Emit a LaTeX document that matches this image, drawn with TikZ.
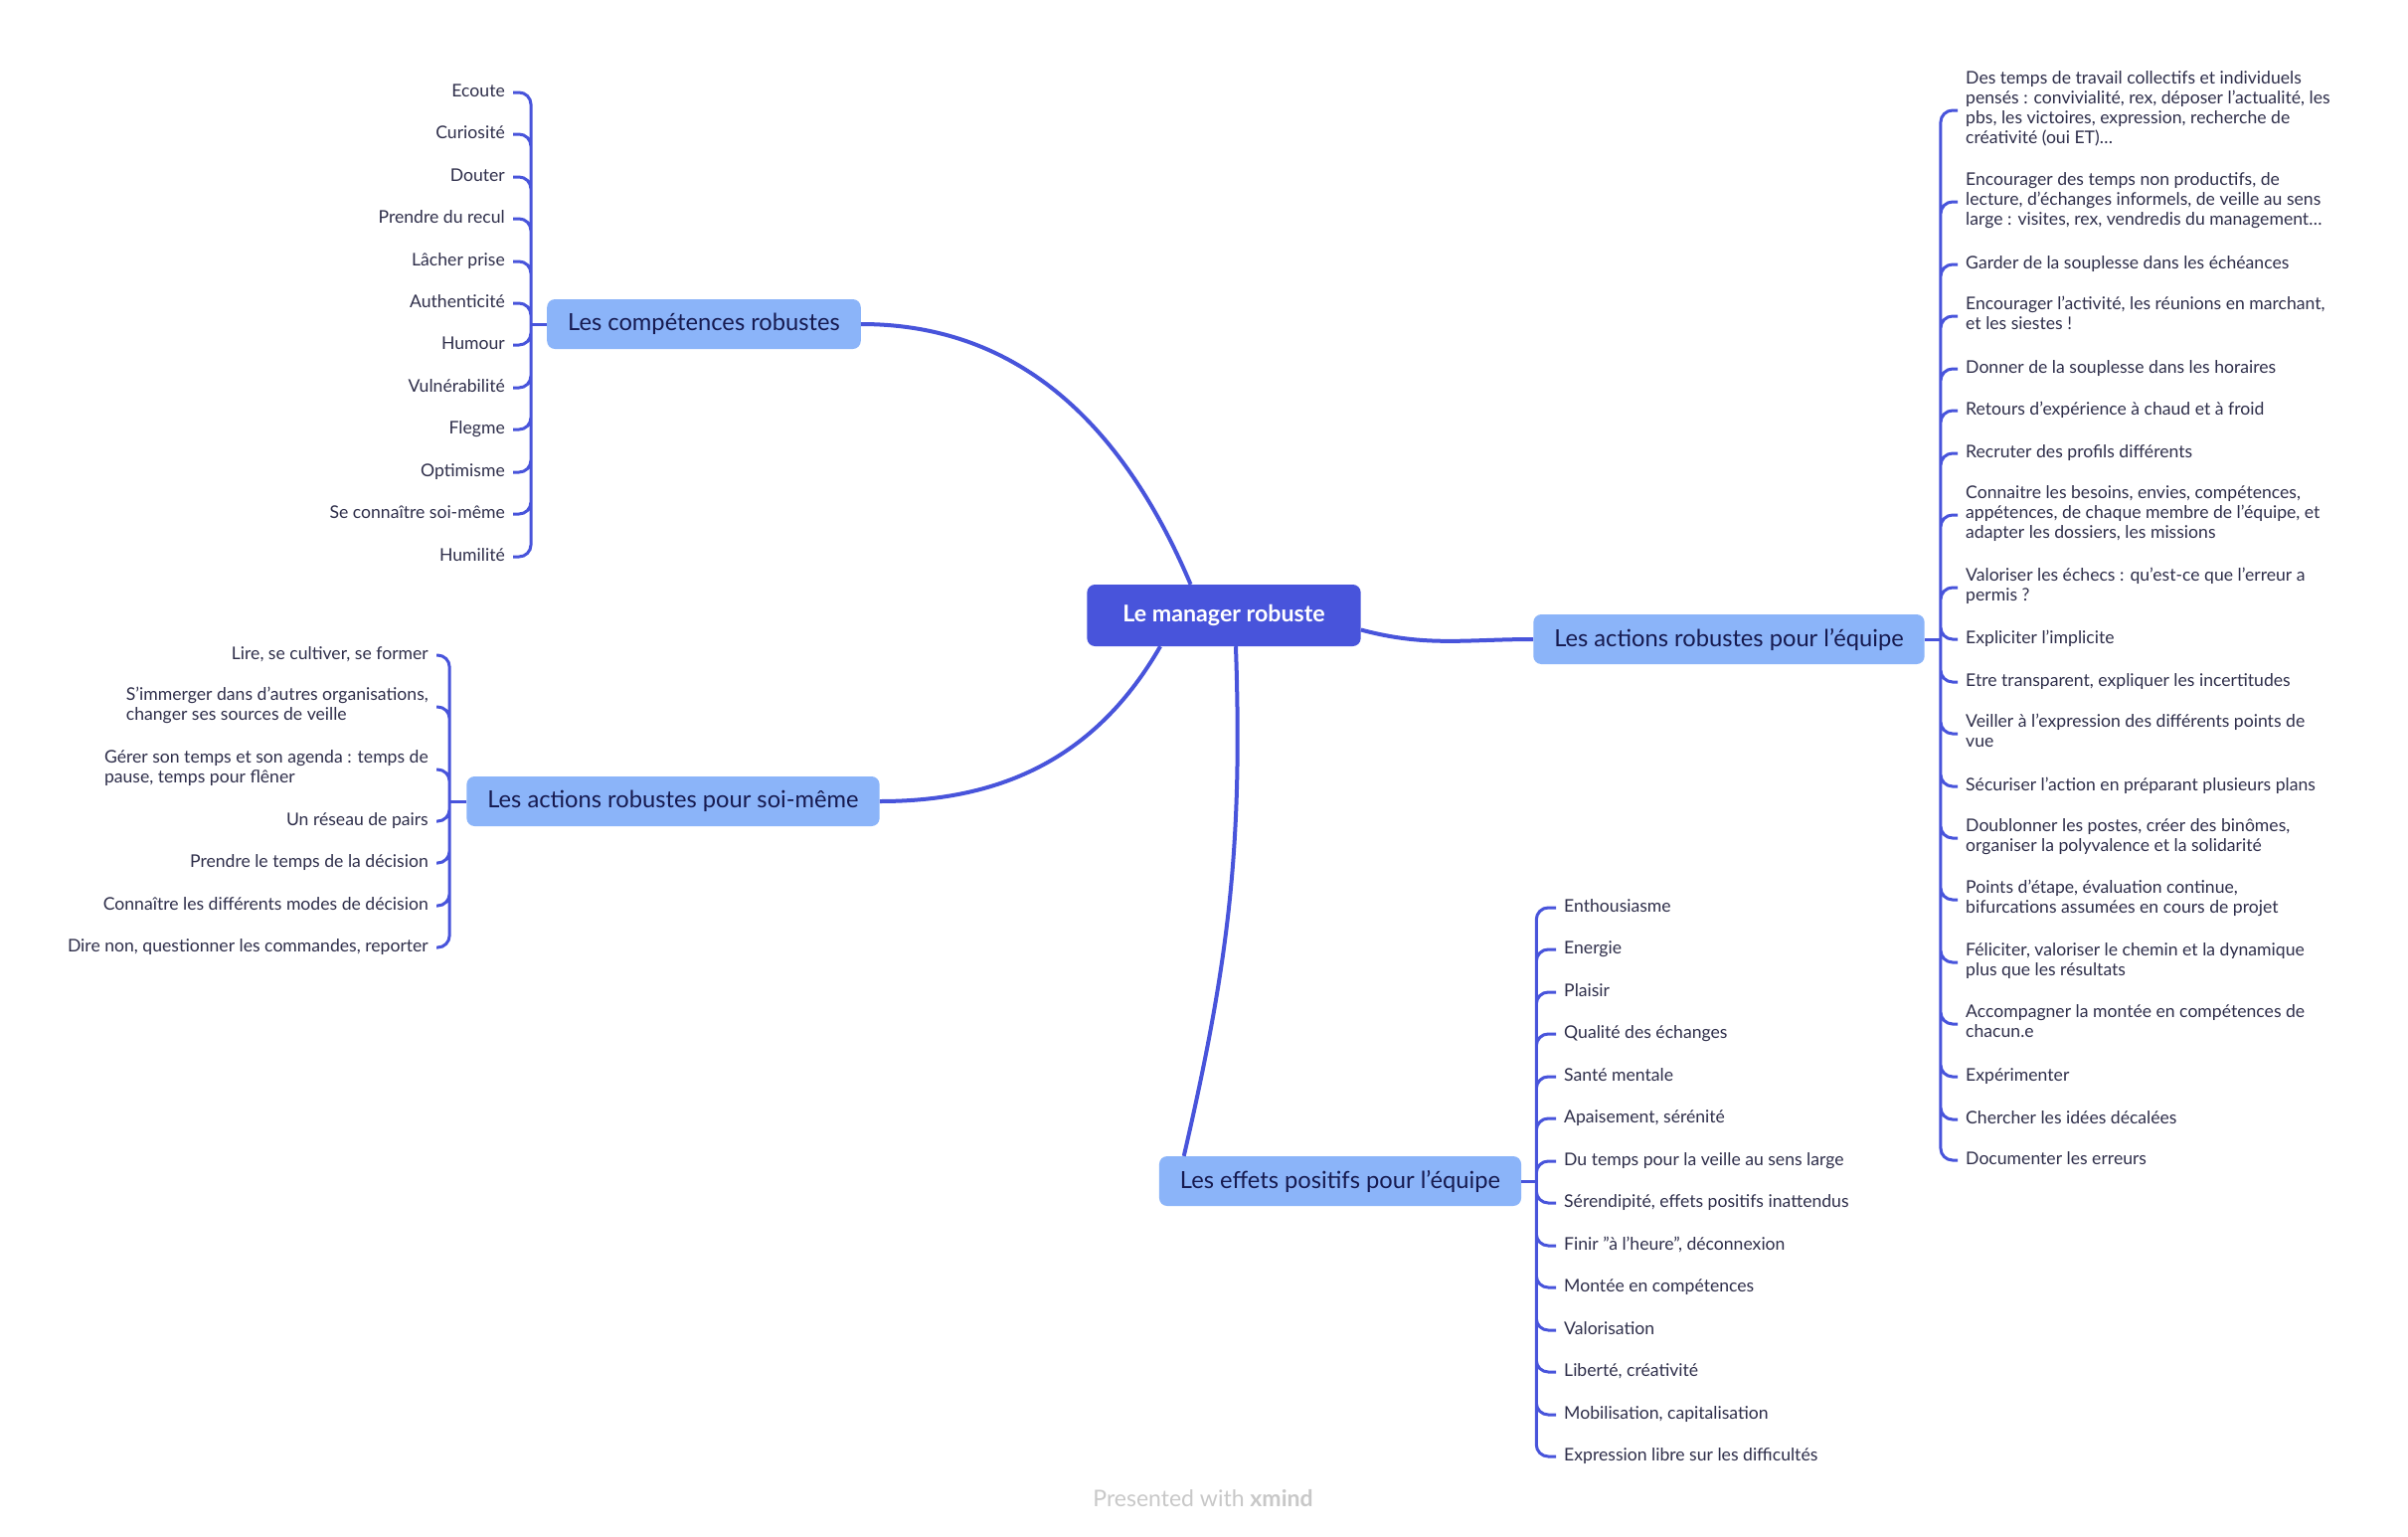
\documentclass[tikz,border=0pt]{standalone}
\usepackage{fontspec}
\setmainfont{Lato}
\usepackage{xcolor}
\usetikzlibrary{
    positioning,
    calc
}
\definecolor{mapblue}{RGB}{72,84,219}
\definecolor{topicblue}{RGB}{139,180,249}
\definecolor{topictext}{RGB}{22,26,80}
\definecolor{leaftext}{RGB}{46,46,74}
\definecolor{footgray}{RGB}{200,200,200}

\begin{document}
\begin{tikzpicture}[
        x=1pt, y=1pt,
        root/.style={rounded corners=8pt, fill=mapblue, text=white, font=\bfseries\fontsize{23.2}{27}\selectfont, minimum height=62pt, inner xsep=36pt},
        topic/.style={rounded corners=8pt, fill=topicblue, text=topictext, font=\fontsize{23.7}{28}\selectfont, minimum height=50pt, inner xsep=21pt},
        leaf/.style={text=leaftext, font=\fontsize{17.6}{20}\selectfont, inner xsep=8pt, inner ysep=0pt, align=left, execute at begin node=\strut, execute at end node=\strut},
        link/.style={draw=mapblue, line width=4pt},
        bracket/.style={draw=mapblue, line width=3pt, rounded corners=12pt}
    ]
        \path[use as bounding box, fill=white] (0,0) rectangle (2422,-1545);

        % Central topic
        \node[root] (central) at (1231,-619) {Le manager robuste};

        % Main topics
        \node[topic] (comp) at (708,-326) {Les compétences robustes};
        \node[topic] (soi) at (677,-806) {Les actions robustes pour soi-même};
        \node[topic] (equipe) at (1739,-643) {Les actions robustes pour l'équipe};
        \node[topic] (effets) at (1348,-1188) {Les effets positifs pour l'équipe};

        % Competences
        \node[leaf, anchor=east] (c1) at (516,-93) {Ecoute};
        \node[leaf, anchor=east] (c2) at (516,-135) {Curiosité};
        \node[leaf, anchor=east] (c3) at (516,-178) {Douter};
        \node[leaf, anchor=east] (c4) at (516,-220) {Prendre du recul};
        \node[leaf, anchor=east] (c5) at (516,-263) {Lâcher prise};
        \node[leaf, anchor=east] (c6) at (516,-305) {Authenticité};
        \node[leaf, anchor=east] (c7) at (516,-347) {Humour};
        \node[leaf, anchor=east] (c8) at (516,-390) {Vulnérabilité};
        \node[leaf, anchor=east] (c9) at (516,-432) {Flegme};
        \node[leaf, anchor=east] (c10) at (516,-475) {Optimisme};
        \node[leaf, anchor=east] (c11) at (516,-517) {Se connaître soi-même};
        \node[leaf, anchor=east] (c12) at (516,-560) {Humilité};

        % Actions pour soi
        \node[leaf, anchor=east] (s1) at (439,-659) {Lire, se cultiver, se former};
        \node[leaf, anchor=east] (s2) at (439,-711) {S'immerger dans d'autres organisations,\\changer ses sources de veille};
        \node[leaf, anchor=east] (s3) at (439,-774) {Gérer son temps et son agenda : temps de\\pause, temps pour flêner};
        \node[leaf, anchor=east] (s4) at (439,-826) {Un réseau de pairs};
        \node[leaf, anchor=east] (s5) at (439,-868) {Prendre le temps de la décision};
        \node[leaf, anchor=east] (s6) at (439,-911) {Connaître les différents modes de décision};
        \node[leaf, anchor=east] (s7) at (439,-953) {Dire non, questionner les commandes, reporter};

        % Actions pour l'equipe
        \node[leaf, anchor=west] (e1) at (1969,-111) {Des temps de travail collectifs et individuels\\pensés : convivialité, rex, déposer l'actualité, les\\pbs, les victoires, expression, recherche de\\créativité (oui ET)…};
        \node[leaf, anchor=west] (e2) at (1969,-203) {Encourager des temps non productifs, de\\lecture, d'échanges informels, de veille au sens\\large : visites, rex, vendredis du management…};
        \node[leaf, anchor=west] (e3) at (1969,-266) {Garder de la souplesse dans les échéances};
        \node[leaf, anchor=west] (e4) at (1969,-318) {Encourager l'activité, les réunions en marchant,\\et les siestes !};
        \node[leaf, anchor=west] (e5) at (1969,-371) {Donner de la souplesse dans les horaires};
        \node[leaf, anchor=west] (e6) at (1969,-413) {Retours d'expérience à chaud et à froid};
        \node[leaf, anchor=west] (e7) at (1969,-456) {Recruter des profils différents};
        \node[leaf, anchor=west] (e8) at (1969,-518) {Connaitre les besoins, envies, compétences,\\appétences, de chaque membre de l'équipe, et\\adapter les dossiers, les missions};
        \node[leaf, anchor=west] (e9) at (1969,-591) {Valoriser les échecs : qu'est-ce que l'erreur a\\permis ?};
        \node[leaf, anchor=west] (e10) at (1969,-643) {Expliciter l'implicite};
        \node[leaf, anchor=west] (e11) at (1969,-686) {Etre transparent, expliquer les incertitudes};
        \node[leaf, anchor=west] (e12) at (1969,-738) {Veiller à l'expression des différents points de\\vue};
        \node[leaf, anchor=west] (e13) at (1969,-791) {Sécuriser l'action en préparant plusieurs plans};
        \node[leaf, anchor=west] (e14) at (1969,-843) {Doublonner les postes, créer des binômes,\\organiser la polyvalence et la solidarité};
        \node[leaf, anchor=west] (e15) at (1969,-905) {Points d'étape, évaluation continue,\\bifurcations assumées en cours de projet};
        \node[leaf, anchor=west] (e16) at (1969,-968) {Féliciter, valoriser le chemin et la dynamique\\plus que les résultats};
        \node[leaf, anchor=west] (e17) at (1969,-1030) {Accompagner la montée en compétences de\\chacun.e};
        \node[leaf, anchor=west] (e18) at (1969,-1083) {Expérimenter};
        \node[leaf, anchor=west] (e19) at (1969,-1126) {Chercher les idées décalées};
        \node[leaf, anchor=west] (e20) at (1969,-1167) {Documenter les erreurs};

        % Effets positifs
        \node[leaf, anchor=west] (f1) at (1565,-913) {Enthousiasme};
        \node[leaf, anchor=west] (f2) at (1565,-955) {Energie};
        \node[leaf, anchor=west] (f3) at (1565,-998) {Plaisir};
        \node[leaf, anchor=west] (f4) at (1565,-1040) {Qualité des échanges};
        \node[leaf, anchor=west] (f5) at (1565,-1083) {Santé mentale};
        \node[leaf, anchor=west] (f6) at (1565,-1125) {Apaisement, sérénité};
        \node[leaf, anchor=west] (f7) at (1565,-1168) {Du temps pour la veille au sens large};
        \node[leaf, anchor=west] (f8) at (1565,-1210) {Sérendipité, effets positifs inattendus};
        \node[leaf, anchor=west] (f9) at (1565,-1253) {Finir "à l'heure", déconnexion};
        \node[leaf, anchor=west] (f10) at (1565,-1295) {Montée en compétences};
        \node[leaf, anchor=west] (f11) at (1565,-1338) {Valorisation};
        \node[leaf, anchor=west] (f12) at (1565,-1380) {Liberté, créativité};
        \node[leaf, anchor=west] (f13) at (1565,-1423) {Mobilisation, capitalisation};
        \node[leaf, anchor=west] (f14) at (1565,-1465) {Expression libre sur les difficultés};

        % Footer
        \node[text=footgray, font=\fontsize{23}{27}\selectfont] (credit) at (1210,-1507) {Presented with \textbf{xmind}};

        % Spine points
        \coordinate[left=16pt of comp.west] (cs);
        \coordinate[left=17pt of soi.west] (ss);
        \coordinate[right=16pt of equipe.east] (es);
        \coordinate[right=15pt of effets.east] (fs);

        % Links
        \draw[link] (central.137) to[out=113, in=0] (comp.east);
        \draw[link] (central.206) to[out=240, in=0] (soi.east);
        \draw[link] (central.-6) to[out=-15, in=180] (equipe.west);
        \draw[link] (central.-69) to[out=-88, in=77] ([xshift=25pt]effets.north west);

        % Brackets
        \draw[bracket] (comp.west) -- (cs);
        \draw[bracket] (cs) |- (c1.east) (cs) |- (c2.east) (cs) |- (c3.east) (cs) |- (c4.east)
            (cs) |- (c5.east) (cs) |- (c6.east) (cs) |- (c7.east) (cs) |- (c8.east)
            (cs) |- (c9.east) (cs) |- (c10.east) (cs) |- (c11.east) (cs) |- (c12.east);

        \draw[bracket] (soi.west) -- (ss);
        \draw[bracket] (ss) |- (s1.east) (ss) |- (s2.east) (ss) |- (s3.east) (ss) |- (s4.east)
            (ss) |- (s5.east) (ss) |- (s6.east) (ss) |- (s7.east);

        \draw[bracket] (equipe.east) -- (es);
        \draw[bracket] (es) |- (e1.west) (es) |- (e2.west) (es) |- (e3.west) (es) |- (e4.west)
            (es) |- (e5.west) (es) |- (e6.west) (es) |- (e7.west) (es) |- (e8.west)
            (es) |- (e9.west) (es) |- (e10.west) (es) |- (e11.west) (es) |- (e12.west)
            (es) |- (e13.west) (es) |- (e14.west) (es) |- (e15.west) (es) |- (e16.west)
            (es) |- (e17.west) (es) |- (e18.west) (es) |- (e19.west) (es) |- (e20.west);

        \draw[bracket] (effets.east) -- (fs);
        \draw[bracket] (fs) |- (f1.west) (fs) |- (f2.west) (fs) |- (f3.west) (fs) |- (f4.west)
            (fs) |- (f5.west) (fs) |- (f6.west) (fs) |- (f7.west) (fs) |- (f8.west)
            (fs) |- (f9.west) (fs) |- (f10.west) (fs) |- (f11.west) (fs) |- (f12.west)
            (fs) |- (f13.west) (fs) |- (f14.west);
    \end{tikzpicture}
\end{document}
